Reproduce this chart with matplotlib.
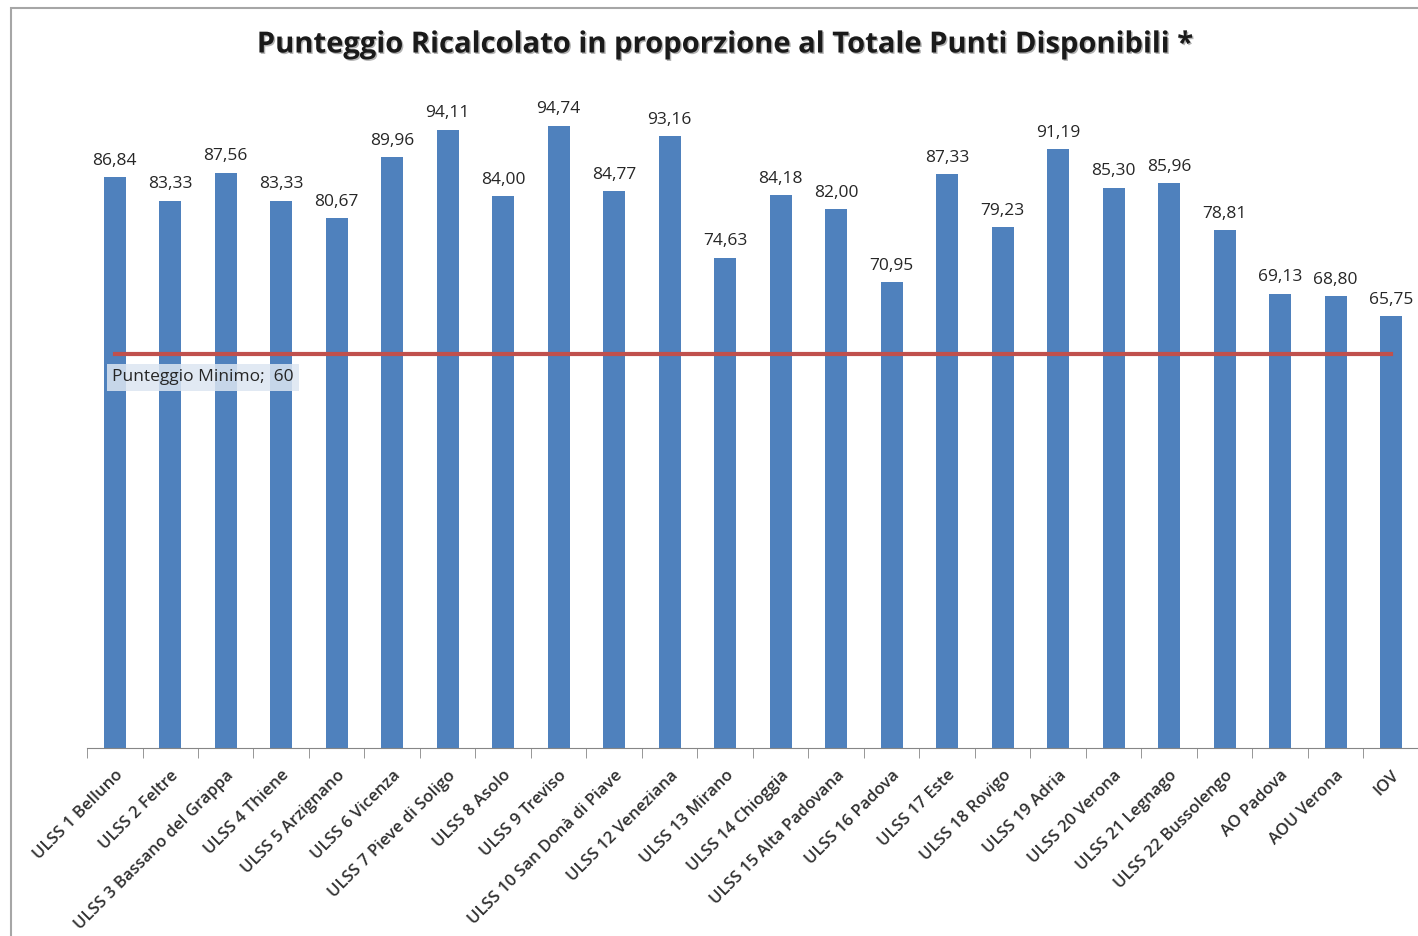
import matplotlib.pyplot as plt
import matplotlib.patheffects as pe
import numpy as np
from matplotlib.patches import Rectangle

aziende = ["ULSS 1 Belluno", "ULSS 2 Feltre", "ULSS 3 Bassano del Grappa", "ULSS 4 Thiene",
           "ULSS 5 Arzignano", "ULSS 6 Vicenza", "ULSS 7 Pieve di Soligo", "ULSS 8 Asolo",
           "ULSS 9 Treviso", "ULSS 10 San Donà di Piave", "ULSS 12 Veneziana", "ULSS 13 Mirano",
           "ULSS 14 Chioggia", "ULSS 15 Alta Padovana", "ULSS 16 Padova", "ULSS 17 Este",
           "ULSS 18 Rovigo", "ULSS 19 Adria", "ULSS 20 Verona", "ULSS 21 Legnago",
           "ULSS 22 Bussolengo", "AO Padova", "AOU Verona", "IOV"]
punteggio = [86.84, 83.33, 87.56, 83.33, 80.67, 89.96, 94.11, 84.00, 94.74, 84.77, 93.16, 74.63,
             84.18, 82.00, 70.95, 87.33, 79.23, 91.19, 85.30, 85.96, 78.81, 69.13, 68.80, 65.75]
minimo = 60

plt.rcParams['font.family'] = ['Open Sans', 'DejaVu Sans']

fig = plt.figure(figsize=(14.18, 9.36), dpi=100)
ax = fig.add_axes([87 / 1418, (936 - 748) / 936, 1332 / 1418, 657 / 936])

x = np.arange(len(aziende))
bars = ax.bar(x, punteggio, width=0.4, color="#4F81BD", zorder=2)
for xi, v in zip(x, punteggio):
    ax.annotate(f"{v:.2f}".replace(".", ","), (xi, v), xytext=(0, 6), textcoords="offset points",
                ha="center", va="bottom", fontsize=12.5, color="#262626")

# linea punteggio minimo
ax.plot([x[0], x[-1]], [minimo, minimo], color="#C0504D", lw=3, zorder=3)
ax.text(x[0] - 0.05, minimo - 3.6, f"Punteggio Minimo;  {minimo}", fontsize=12.5, color="#262626",
        ha="left", va="center", zorder=4,
        bbox=dict(boxstyle="square,pad=0.3", fc="#DCE6F2", ec="none", alpha=0.85))

ax.set_xlim(-0.5, len(aziende) - 0.5)
ax.set_ylim(0, 100)
ax.set_yticks([])
for s in ["left", "right", "top"]:
    ax.spines[s].set_visible(False)
ax.spines["bottom"].set_color("#868686")

ax.set_xticks(x)
ax.set_xticklabels(aziende, rotation=45, ha="right", rotation_mode="anchor",
                   fontsize=12, color="#303030", fontweight="semibold")
ax.tick_params(axis="x", which="major", length=0, pad=14)
ax.set_xticks(np.arange(-0.5, len(aziende)), minor=True)
ax.tick_params(axis="x", which="minor", length=7, color="#868686")

fig.text(725 / 1418, 1 - 45 / 936, "Punteggio Ricalcolato in proporzione al Totale Punti Disponibili *",
         ha="center", va="center", fontsize=21, fontweight="bold", color="#1a1a1a",
         path_effects=[pe.withSimplePatchShadow(offset=(1, -1), shadow_rgbFace="#808080", alpha=0.6)])

fig.patches.append(Rectangle((11 / 1418, -0.01), 1.1, 1 - 8 / 936 + 0.01, transform=fig.transFigure,
                             fill=False, ec="#A6A6A6", lw=1.5))

fig.savefig("out.png", dpi=100)
